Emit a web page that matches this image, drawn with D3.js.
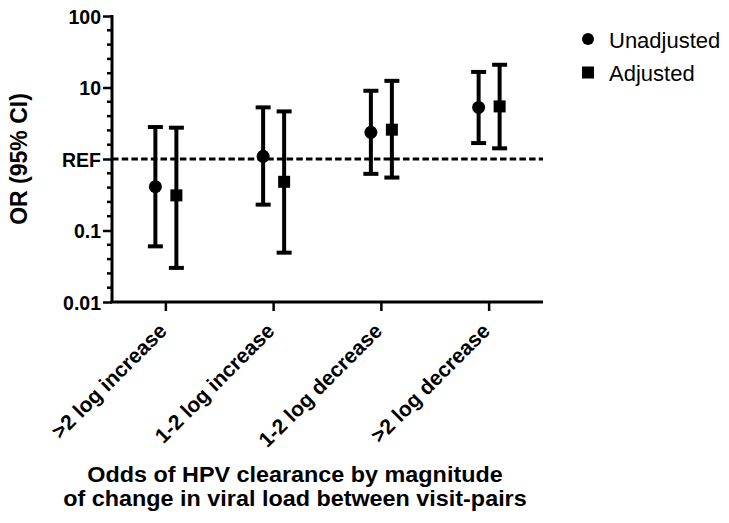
<!DOCTYPE html>
<html>
<head>
<meta charset="utf-8">
<script src="https://cdn.jsdelivr.net/npm/d3@7"></script>
<style>
  html, body { margin: 0; padding: 0; background: #fff; }
  svg { display: block; }
  text { font-family: "Liberation Sans", Arial, Helvetica, sans-serif; fill: #000; }
</style>
</head>
<body>
<svg id="chart" width="729" height="523"></svg>
<script>
// ---- data ----
const categories = [">2 log increase", "1-2 log increase", "1-2 log decrease", ">2 log decrease"];
const seriesNames = ["Unadjusted", "Adjusted"];
const unadjOR = [0.41, 1.09, 2.36, 5.27];
const unadjLo = [0.06, 0.23, 0.62, 1.67];
const unadjHi = [2.8, 5.27, 9.0, 16.5];
const adjOR = [0.31, 0.48, 2.57, 5.44];
const adjLo = [0.03, 0.049, 0.55, 1.41];
const adjHi = [2.74, 4.63, 12.4, 20.8];
const yTickValues = [100, 10, 1, 0.1, 0.01];
const yTickLabels = ["100", "10", "REF", "0.1", "0.01"];
const refValue = 1;
const yTitle = "OR (95% CI)";
const xTitleLines = ["Odds of HPV clearance by magnitude", "of change in viral load between visit-pairs"];

(function () {
// ---- layout ----
const svg = d3.select("#chart");
const mLeft = 112, mRight = 543, mTop = 16, mBottom = 302;

const x = d3.scaleBand().domain(categories).range([mLeft, mRight]);
const off = d3.scalePoint().domain(seriesNames).range([-10.5, 10.5]);
const y = d3.scaleLog().domain([0.01, 100]).range([mBottom, mTop]);

const series = [
  { name: "Unadjusted", or: unadjOR, lo: unadjLo, hi: unadjHi, shape: "circle" },
  { name: "Adjusted", or: adjOR, lo: adjLo, hi: adjHi, shape: "square" }
];

// minor ticks (5 per decade, evenly spaced in log space)
const minorTicks = [];
for (let e = -2; e < 2; e++) {
  for (let k = 1; k < 5; k++) minorTicks.push(Math.pow(10, e + k / 5));
}

// ---- reference line ----
svg.append("line")
  .attr("x1", mLeft).attr("x2", mRight)
  .attr("y1", y(refValue)).attr("y2", y(refValue))
  .attr("stroke", "#000").attr("stroke-width", 3)
  .attr("stroke-dasharray", "6.5,3.2");

// ---- y axis ----
const yAxis = svg.append("g").attr("transform", `translate(${mLeft},0)`)
  .call(d3.axisLeft(y).tickValues(yTickValues)
    .tickFormat((d, i) => yTickLabels[i]).tickSize(9).tickPadding(2).tickSizeOuter(0));
yAxis.select(".domain").attr("stroke-width", 3).attr("d", `M0,${mBottom}V${mTop - 1}`);
yAxis.selectAll(".tick line").attr("stroke-width", 2.5);
yAxis.selectAll(".tick text")
  .style("font-family", "'Liberation Sans', Arial, sans-serif")
  .style("font-weight", "bold").style("font-size", "19.5px").attr("dy", "0.36em");

svg.append("g").attr("transform", `translate(${mLeft},0)`)
  .selectAll("line").data(minorTicks).join("line")
  .attr("x1", -5).attr("x2", 0)
  .attr("y1", d => y(d)).attr("y2", d => y(d))
  .attr("stroke", "#000").attr("stroke-width", 2.5);

// ---- x axis ----
const xAxis = svg.append("g").attr("transform", `translate(0,${mBottom})`)
  .call(d3.axisBottom(x).tickSize(9).tickSizeOuter(0));
xAxis.select(".domain").attr("stroke-width", 3).attr("d", `M${mLeft - 1.5},0H${mRight}`);
xAxis.selectAll(".tick line").attr("stroke-width", 2.5);
xAxis.selectAll(".tick text")
  .style("font-family", "'Liberation Sans', Arial, sans-serif")
  .style("font-weight", "bold").style("font-size", "21px")
  .attr("text-anchor", "end")
  .attr("x", 0).attr("y", 0).attr("dy", "0.35em")
  .attr("transform", "translate(-3,25) rotate(-45)");

// ---- error bars & markers ----
const capW = 15;
series.forEach(s => {
  const g = svg.append("g");
  const data = categories.map((c, i) => ({ c, or: s.or[i], lo: s.lo[i], hi: s.hi[i] }));
  const cx = d => x(d.c) + x.bandwidth() / 2 + off(s.name);
  g.selectAll("line.v").data(data).join("line").attr("class", "v")
    .attr("x1", cx).attr("x2", cx)
    .attr("y1", d => y(d.lo)).attr("y2", d => y(d.hi))
    .attr("stroke", "#000").attr("stroke-width", 4);
  g.selectAll("line.hi").data(data).join("line").attr("class", "hi")
    .attr("x1", d => cx(d) - capW / 2).attr("x2", d => cx(d) + capW / 2)
    .attr("y1", d => y(d.hi)).attr("y2", d => y(d.hi))
    .attr("stroke", "#000").attr("stroke-width", 4);
  g.selectAll("line.lo").data(data).join("line").attr("class", "lo")
    .attr("x1", d => cx(d) - capW / 2).attr("x2", d => cx(d) + capW / 2)
    .attr("y1", d => y(d.lo)).attr("y2", d => y(d.lo))
    .attr("stroke", "#000").attr("stroke-width", 4);
  if (s.shape === "circle") {
    g.selectAll("circle").data(data).join("circle")
      .attr("cx", cx).attr("cy", d => y(d.or)).attr("r", 6.5).attr("fill", "#000");
  } else {
    g.selectAll("rect").data(data).join("rect")
      .attr("x", d => cx(d) - 6).attr("y", d => y(d.or) - 6)
      .attr("width", 12).attr("height", 12).attr("fill", "#000");
  }
});

// ---- y title ----
svg.append("text")
  .attr("transform", `translate(27,${(mTop + mBottom) / 2}) rotate(-90)`)
  .attr("text-anchor", "middle")
  .style("font-weight", "bold").style("font-size", "23px")
  .text(yTitle);

// ---- x title ----
svg.append("text")
  .attr("transform", "translate(295,0) scale(1.062,1)")
  .attr("text-anchor", "middle")
  .style("font-weight", "bold").style("font-size", "22px")
  .selectAll("tspan").data(xTitleLines).join("tspan")
  .attr("x", 0).attr("y", (d, i) => 482 + i * 24.5)
  .text(d => d);

// ---- legend ----
const legend = svg.append("g");
const legY = d3.scalePoint().domain(seriesNames).range([39, 72.5]);
seriesNames.forEach((n, i) => {
  const yy = legY(n);
  if (series[i].shape === "circle") {
    legend.append("circle").attr("cx", 588).attr("cy", yy).attr("r", 6).attr("fill", "#000");
  } else {
    legend.append("rect").attr("x", 582).attr("y", yy - 6).attr("width", 12).attr("height", 12).attr("fill", "#000");
  }
  legend.append("text").attr("x", 609).attr("y", yy + 8.5)
    .style("font-size", "22px").text(n);
});
})();
</script>
</body>
</html>
